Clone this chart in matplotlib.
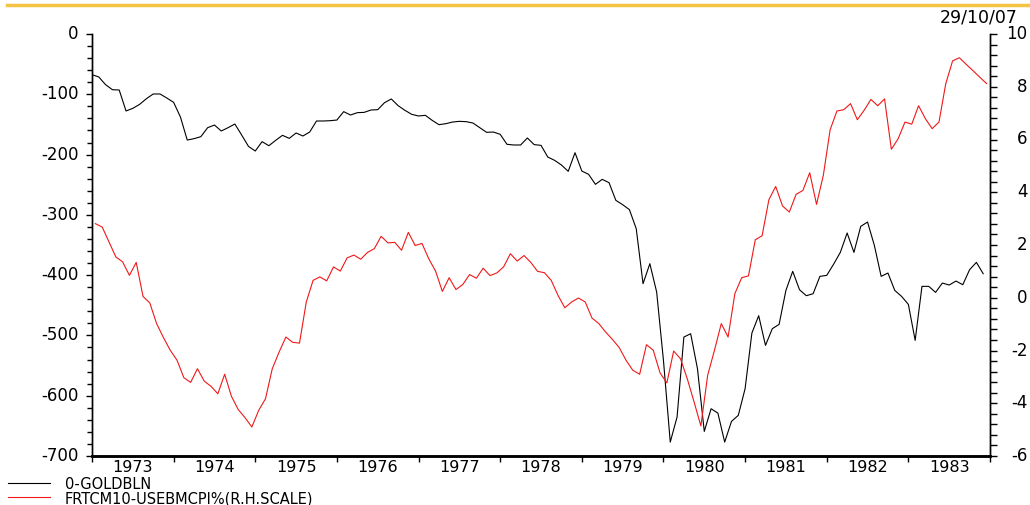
import numpy as np
import matplotlib
matplotlib.use("Agg")
import matplotlib.pyplot as plt
import matplotlib.transforms as mtransforms
from matplotlib.ticker import MultipleLocator, FixedLocator, NullFormatter
from matplotlib.lines import Line2D

plt.rcParams['font.family'] = ['DejaVu Sans']
plt.rcParams['axes.unicode_minus'] = False

START_YEAR = 1973
YEARS = list(range(1973, 1984))
DATE_STAMP = "29/10/07"
GOLD_LABEL = "0-GOLDBLN"
SPREAD_LABEL = "FRTCM10-USEBMCPI%(R.H.SCALE)"

# monthly, Jan 1973 .. Dec 1983 (left scale)
gold = [-67.5, -71.3, -84.1, -92.4, -92.9, -127.7, -123.3, -116.7, -107.3, -99.5, -99.5, -106.2,
        -113.4, -137.7, -175.9, -173.6, -170.3, -155.4, -151.0, -160.9, -155.4, -149.3, -167.6, -186.4,
        -194.1, -178.6, -185.3, -176.4, -168.1, -173.1, -164.2, -169.2, -162.6, -144.3, -144.3, -143.8,
        -142.7, -128.8, -134.4, -130.5, -130.0, -126.1, -125.5, -113.9, -107.8, -118.9, -126.6, -133.3,
        -136.0, -134.9, -143.2, -150.4, -148.8, -146.0, -144.9, -145.4, -147.7, -155.4, -163.1, -162.6,
        -166.4, -183.0, -184.1, -184.1, -172.5, -183.5, -184.7, -204.1, -209.6, -217.3, -227.8, -196.9,
        -227.3, -232.8, -249.4, -241.1, -246.6, -275.9, -283.1, -291.4, -323.0, -414.2, -381.0, -428.0,
        -541.4, -676.9, -635.4, -502.7, -497.2, -555.2, -659.2, -621.6, -628.8, -676.9, -642.6, -632.6,
        -588.4, -496.0, -467.3, -516.5, -488.8, -481.7, -425.3, -393.7, -424.2, -434.1, -430.8, -402.0,
        -400.4, -382.1, -362.2, -330.1, -362.2, -319.1, -311.9, -350.6, -402.0, -396.5, -425.3, -435.2,
        -448.5, -508.2, -418.6, -418.6, -428.6, -413.1, -416.4, -409.8, -415.9, -391.0, -378.8, -397.6]

# monthly, mid-month Jan 1973 .. Dec 1983 (right scale)
spread = [2.81, 2.68, 2.11, 1.55, 1.36, 0.85, 1.34, 0.05, -0.20, -0.98, -1.51, -1.99,
          -2.37, -3.03, -3.21, -2.69, -3.16, -3.36, -3.64, -2.90, -3.74, -4.24, -4.55, -4.90,
          -4.27, -3.83, -2.69, -2.06, -1.49, -1.69, -1.72, -0.16, 0.66, 0.79, 0.64, 1.17,
          1.01, 1.51, 1.62, 1.46, 1.72, 1.86, 2.33, 2.08, 2.10, 1.80, 2.48, 1.98,
          2.06, 1.48, 1.01, 0.24, 0.76, 0.31, 0.50, 0.88, 0.74, 1.12, 0.84, 0.94,
          1.17, 1.67, 1.39, 1.60, 1.34, 1.00, 0.95, 0.66, 0.09, -0.38, -0.16, -0.01,
          -0.16, -0.77, -0.98, -1.30, -1.58, -1.89, -2.37, -2.75, -2.90, -1.78, -1.99, -2.85,
          -3.23, -2.02, -2.31, -3.07, -3.95, -4.86, -2.94, -1.99, -0.98, -1.49, 0.16, 0.76,
          0.83, 2.20, 2.35, 3.72, 4.22, 3.48, 3.25, 3.92, 4.07, 4.74, 3.54, 4.64,
          6.37, 7.08, 7.13, 7.36, 6.75, 7.11, 7.52, 7.28, 7.54, 5.63, 6.03, 6.66,
          6.58, 7.28, 6.79, 6.41, 6.66, 8.12, 8.98, 9.10, 8.85, 8.61, 8.36, 8.12]


def main():
    fig = plt.figure(figsize=(10.3, 5.06), dpi=100)
    W, H = 1030.0, 506.0
    ax = fig.add_axes([92 / W, (H - 457) / H, 898 / W, 422 / H])
    ax2 = ax.twinx()

    t_gold = START_YEAR + np.arange(len(gold)) / 12.0
    t_spread = START_YEAR + (np.arange(len(spread)) + 0.5) / 12.0

    l1, = ax.plot(t_gold, gold, color='black', lw=0.8)
    l2, = ax2.plot(t_spread, spread, color='#f01818', lw=0.8)

    ax.set_xlim(START_YEAR, YEARS[-1] + 1)
    ax.set_ylim(-700, 0)
    ax2.set_ylim(-6, 10)

    # x axis: ticks at year boundaries, labels centred in each year
    ax.xaxis.set_major_locator(FixedLocator(YEARS + [YEARS[-1] + 1]))
    ax.xaxis.set_major_formatter(NullFormatter())
    ax.set_xticks([y + 0.5 for y in YEARS], [str(y) for y in YEARS], minor=True)
    ax.tick_params(axis='x', which='major', direction='out', length=4, width=1)
    ax.tick_params(axis='x', which='minor', length=0, pad=2, labelsize=11.5)

    ax.yaxis.set_major_locator(MultipleLocator(100))
    ax.yaxis.set_minor_locator(MultipleLocator(20))
    ax.tick_params(axis='y', which='major', direction='out', length=4.5, width=1, pad=5, labelsize=12)
    ax.tick_params(axis='y', which='minor', direction='out', length=3.5, width=1)

    ax2.yaxis.set_major_locator(MultipleLocator(2))
    ax2.yaxis.set_minor_locator(MultipleLocator(0.4))
    ax2.tick_params(axis='y', which='major', direction='out', length=5, width=1, pad=22, labelsize=12)
    ax2.tick_params(axis='y', which='minor', direction='out', length=5, width=1)

    for a in (ax, ax2):
        a.spines['top'].set_visible(False)
        a.spines['left'].set_linewidth(1.0)
        a.spines['right'].set_linewidth(1.0)
        a.spines['bottom'].set_linewidth(1.8)

    # labels sit a little above their tick
    lift = mtransforms.ScaledTranslation(0, 3 / 100.0, fig.dpi_scale_trans)
    for lbl in ax.get_yticklabels():
        lbl.set_transform(lbl.get_transform() + lift)
    for lbl in ax2.get_yticklabels():
        lbl.set_transform(lbl.get_transform() + lift)
        lbl.set_ha('right')

    # yellow rule on top
    fig.add_artist(Line2D([7 / W, 1.0], [1 - 5.5 / H, 1 - 5.5 / H], transform=fig.transFigure,
                          color='#f5c445', lw=2.5))
    fig.text(1018 / W, 1 - 17 / H, DATE_STAMP, ha='right', va='center', fontsize=12.5)

    fig.legend([l1, l2], [GOLD_LABEL, SPREAD_LABEL], loc='upper left',
               bbox_to_anchor=(8 / W, 1 - 477 / H), frameon=False, fontsize=10.5,
               borderpad=0, borderaxespad=0, handlelength=2.9, handletextpad=1.0,
               labelspacing=-0.05)

    fig.savefig("out.png", dpi=100)


if __name__ == "__main__":
    main()
